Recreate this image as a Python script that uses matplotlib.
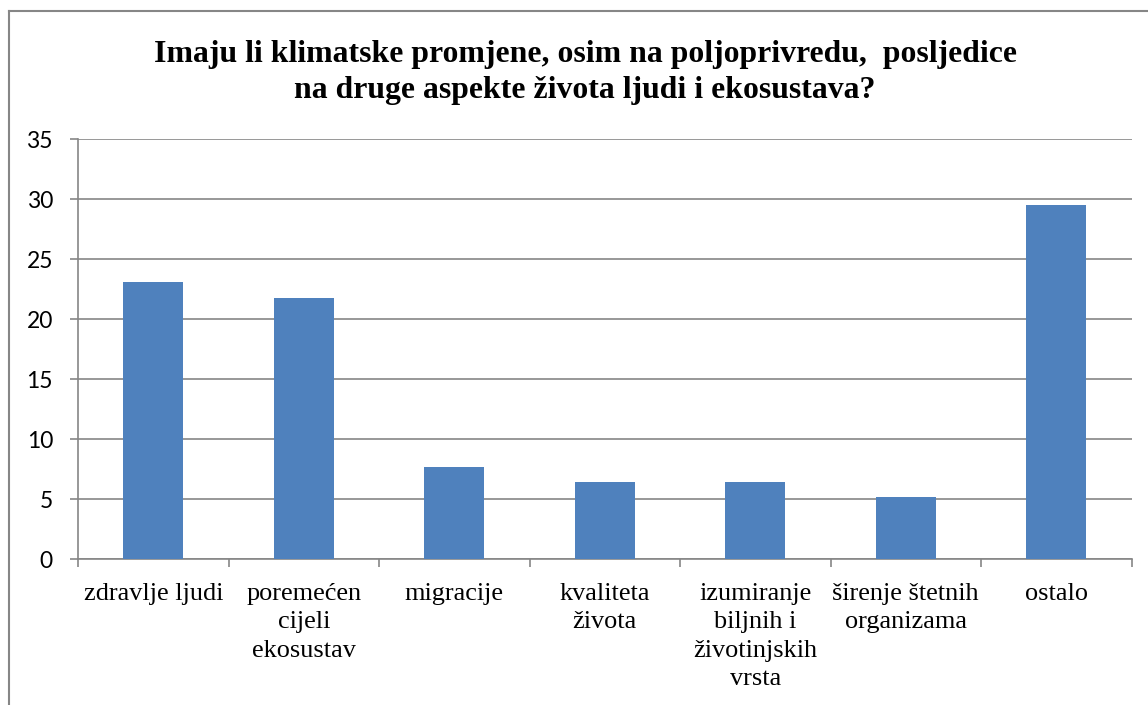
import numpy as np
import matplotlib as mpl
mpl.use('Agg')
import matplotlib.pyplot as plt
from matplotlib.lines import Line2D

categories = ['zdravlje ljudi', 'poremećen\ncijeli\nekosustav', 'migracije',
              'kvaliteta\nživota', 'izumiranje\nbiljnih i\nživotinjskih\nvrsta',
              'širenje štetnih\norganizama', 'ostalo']
values = [23.08, 21.79, 7.69, 6.41, 6.41, 5.13, 29.49]
yticks = [0, 5, 10, 15, 20, 25, 30, 35]

W, H = 1148, 705
fig = plt.figure(figsize=(W/100, H/100), dpi=100)
ax = fig.add_axes([78/W, (H-559)/H, (1131.5-78)/W, (559-139)/H])

x = np.arange(len(categories))
ax.bar(x, values, width=0.4, color='#4F81BD', zorder=3)

gc = '#868686'
ax.set_xlim(-0.5, len(categories)-0.5)
ax.set_ylim(0, 35)
ax.set_yticks(yticks)
ax.yaxis.grid(True, color=gc, lw=1.2, zorder=0)
for s in ['top', 'right']:
    ax.spines[s].set_visible(False)
for s in ['left', 'bottom']:
    ax.spines[s].set_color(gc)
    ax.spines[s].set_linewidth(1.2)

ax.set_xticks(x)
ax.set_xticklabels(categories, family='Liberation Serif', fontsize=18.9,
                   linespacing=1.36, va='top')
ax.tick_params(axis='x', length=0, pad=17.5)
ax.set_xticks(np.arange(len(categories)+1)-0.5, minor=True)
ax.tick_params(axis='x', which='minor', length=6, color=gc, width=1.2)
ax.tick_params(axis='y', length=6, color=gc, width=1.2, pad=12)
for lab in ax.get_yticklabels():
    lab.set_family('Lato')
    lab.set_fontsize(16.5)

fig.text(585/W, 1-72.5/H,
         'Imaju li klimatske promjene, osim na poljoprivredu,  posljedice\nna druge aspekte života ljudi i ekosustava?',
         ha='center', va='center', family='Liberation Serif', fontweight='bold',
         fontsize=22.9, linespacing=1.28)

fig.add_artist(Line2D([9/W, 9/W], [0, 1-11/H], color=gc, lw=1.5))
fig.add_artist(Line2D([9/W, 1], [1-11/H, 1-11/H], color=gc, lw=1.5))

fig.savefig('out.png', dpi=100, facecolor='w')
